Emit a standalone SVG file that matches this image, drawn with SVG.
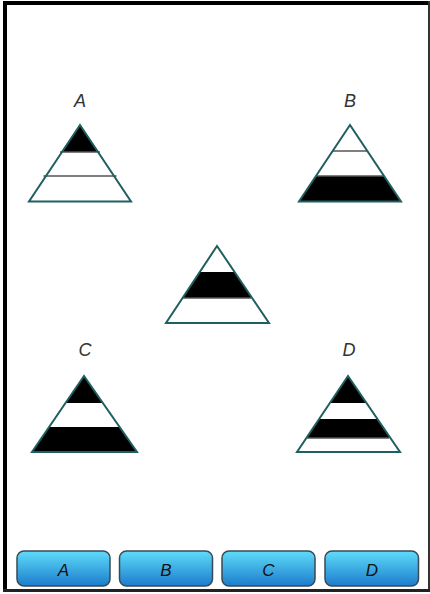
<svg xmlns="http://www.w3.org/2000/svg" width="430" height="594" viewBox="0 0 430 594">
<defs>
<linearGradient id="btn" x1="0" y1="0" x2="0" y2="1">
<stop offset="0" stop-color="#5fdcfa"/>
<stop offset="1" stop-color="#1c7ccc"/>
</linearGradient>
<style>
.tri{fill:none;stroke:#1f5f60;stroke-width:2;stroke-linejoin:miter}
.ln{stroke:#555;stroke-width:1.5}
.lbl{font-family:"Comic Sans MS","Liberation Sans",sans-serif;font-size:18px;fill:#333;text-anchor:middle;font-style:italic}
.btn{fill:url(#btn);stroke:#3a4a55;stroke-width:1.5}
.btxt{font-family:"Comic Sans MS","Liberation Sans",sans-serif;font-size:17px;fill:#111;text-anchor:middle;font-style:italic}
</style>
<clipPath id="cA"><polygon points="80,125 29,201.5 131,201.5"/></clipPath>
<clipPath id="cB"><polygon points="350,125 299,201.5 401,201.5"/></clipPath>
<clipPath id="cM"><polygon points="217,246 166,323 269,323"/></clipPath>
<clipPath id="cC"><polygon points="84,376 32,452 137,452"/></clipPath>
<clipPath id="cD"><polygon points="348,376 297,452 400,452"/></clipPath>
</defs>
<rect width="430" height="594" fill="#fff"/>
<g id="frame">
<rect x="3" y="1" width="427" height="4" fill="#000"/>
<rect x="3" y="1" width="4" height="591" fill="#000"/>
<rect x="428" y="1" width="2" height="591" fill="#333"/>
<rect x="3" y="589" width="427" height="3" fill="#222"/>
</g>
<g id="nodeA">
<text class="lbl" x="80" y="107">A</text>
<g clip-path="url(#cA)"><rect x="20" y="120" width="120" height="32" fill="#000"/></g>
<line class="ln" x1="60" y1="152" x2="100" y2="152"/>
<line class="ln" x1="43.5" y1="176" x2="116.5" y2="176"/>
<polygon class="tri" points="80,125 29,201.5 131,201.5"/>
</g>
<g id="nodeB">
<text class="lbl" x="350" y="107">B</text>
<g clip-path="url(#cB)"><rect x="290" y="176" width="120" height="30" fill="#000"/></g>
<line class="ln" x1="333" y1="151" x2="367" y2="151"/>
<line class="ln" x1="316" y1="176" x2="384" y2="176"/>
<polygon class="tri" points="350,125 299,201.5 401,201.5"/>
</g>
<g id="nodeCenter">
<g clip-path="url(#cM)"><rect x="160" y="272" width="120" height="26" fill="#000"/></g>
<line class="ln" x1="183" y1="298" x2="251" y2="298"/>
<polygon class="tri" points="217,246 166,323 269,323"/>
</g>
<g id="nodeC">
<text class="lbl" x="85" y="356">C</text>
<g clip-path="url(#cC)">
<rect x="25" y="370" width="120" height="33" fill="#000"/>
<rect x="25" y="427" width="120" height="30" fill="#000"/>
</g>
<polygon class="tri" points="84,376 32,452 137,452"/>
</g>
<g id="nodeD">
<text class="lbl" x="349" y="356">D</text>
<g clip-path="url(#cD)">
<rect x="290" y="370" width="120" height="33" fill="#000"/>
<rect x="290" y="419" width="120" height="19" fill="#000"/>
</g>
<line class="ln" x1="307" y1="438" x2="389" y2="438"/>
<polygon class="tri" points="348,376 297,452 400,452"/>
</g>
<g id="btnA">
<rect class="btn" x="17" y="551" width="93" height="35" rx="7"/>
<text class="btxt" x="63.5" y="576">A</text>
</g>
<g id="btnB">
<rect class="btn" x="119.5" y="551" width="93" height="35" rx="7"/>
<text class="btxt" x="166" y="576">B</text>
</g>
<g id="btnC">
<rect class="btn" x="222" y="551" width="93" height="35" rx="7"/>
<text class="btxt" x="268.5" y="576">C</text>
</g>
<g id="btnD">
<rect class="btn" x="325" y="551" width="93.5" height="35" rx="7"/>
<text class="btxt" x="372" y="576">D</text>
</g>
<g id="connectors"/>
</svg>
